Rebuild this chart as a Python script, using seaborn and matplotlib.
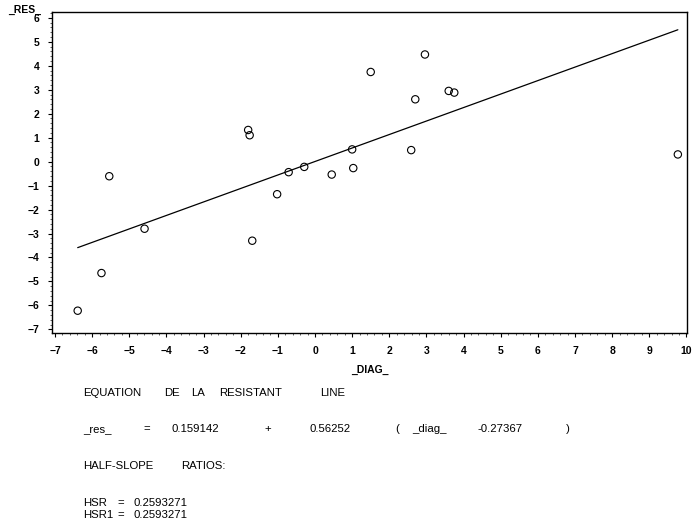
import matplotlib
matplotlib.use("Agg")
import matplotlib.pyplot as plt
import numpy as np
import pandas as pd
import seaborn as sns
from matplotlib.ticker import MultipleLocator

# Residual diagnostics: (_DIAG_, _RES_) pairs
diag = [-6.39, -5.75, -5.54, -4.59, -1.80, -1.76, -1.69, -1.02, -0.71, -0.29,
        0.45, 1.00, 1.03, 1.50, 2.59, 2.70, 2.96, 3.60, 3.75, 9.77]
res = [-6.22, -4.65, -0.61, -2.80, 1.32, 1.10, -3.30, -1.36, -0.44, -0.22,
       -0.54, 0.51, -0.27, 3.74, 0.48, 2.60, 4.47, 2.95, 2.88, 0.30]

# Resistant line: res = a + b * (diag - c)
line_a = 0.159142
line_b = 0.56252
line_c = 0.27367
hsr = 0.2593271
hsr1 = 0.2593271

x_ticks = list(range(-7, 11))
y_ticks = list(range(-7, 7))

W, H = 692, 528

sns.set_theme(style="ticks")
plt.rcParams["font.family"] = ["Liberation Sans", "DejaVu Sans"]
plt.rcParams["axes.linewidth"] = 1.0


def fpos(x, y):
    return x / W, 1 - y / H


fig = plt.figure(figsize=(W / 100, H / 100), dpi=100)
fig.patch.set_facecolor("white")
left, right, top, bottom = 51.7, 687.5, 12.3, 332.5
ax = fig.add_axes([left / W, 1 - bottom / H, (right - left) / W, (bottom - top) / H])
ax.set_facecolor("white")

df = pd.DataFrame({"diag": diag, "res": res})
df["fit"] = line_a + line_b * (df["diag"] - line_c)

sns.lineplot(data=df, x="diag", y="fit", estimator=None, sort=True,
             color="black", linewidth=0.9, ax=ax)
sns.scatterplot(data=df, x="diag", y="res", marker="o", s=28,
                facecolor="none", edgecolor="black", linewidth=0.8, ax=ax)

ax.set_xlim(-7.09, 10.03)
ax.set_ylim(-7.13, 6.23)
ax.set_xticks(x_ticks)
ax.set_yticks(y_ticks)
ax.xaxis.set_minor_locator(MultipleLocator(0.2))
ax.yaxis.set_minor_locator(MultipleLocator(0.2))
ax.tick_params(which="major", direction="out", length=3.0, width=0.8,
               color="black", labelsize=7.5, labelcolor="black")
ax.tick_params(which="minor", direction="out", length=1.6, width=0.6, color="#444444")
ax.tick_params(axis="x", which="major", pad=7)
ax.tick_params(axis="y", which="major", pad=6)
for lbl in ax.get_xticklabels() + ax.get_yticklabels():
    lbl.set_fontweight("bold")
for sp in ax.spines.values():
    sp.set_visible(True)
    sp.set_color("black")
    sp.set_linewidth(1.0)
ax.set_xlabel("")
ax.set_ylabel("")
ax.grid(False)

# Axis names
fig.text(*fpos(25, 10), "_RES_", ha="center", va="center",
         fontsize=7.5, fontweight="bold", color="black")
fig.text(*fpos((left + right) / 2, 370), "_DIAG_", ha="center", va="center",
         fontsize=7.5, fontweight="bold", color="black")

# Printed results below the plot, one token per output column
fs = 8.2


def words(y, items):
    for x0, s in items:
        fig.text(*fpos(x0, y), s, ha="left", va="center",
                 fontsize=fs, color="black")


words(392.7, [(82.7, "EQUATION"), (164, "DE"), (191, "LA"),
              (219, "RESISTANT"), (320, "LINE")])
words(429, [(82.7, "_res_"), (143, "="), (171, f"{line_a:.6f}"), (264, "+"),
            (310, f"{line_b:.5f}"), (395, "("), (412, "_diag_"),
            (478, f"-{line_c:.5f}"), (566, ")")])
words(466, [(82.7, "HALF-SLOPE"), (181, "RATIOS:")])
words(502.7, [(82.7, "HSR"), (117, "="), (134, f"{hsr:.7f}")])
words(515.5, [(82.7, "HSR1"), (117, "="), (134, f"{hsr1:.7f}")])

fig.savefig("out.png", dpi=100, facecolor="white")
